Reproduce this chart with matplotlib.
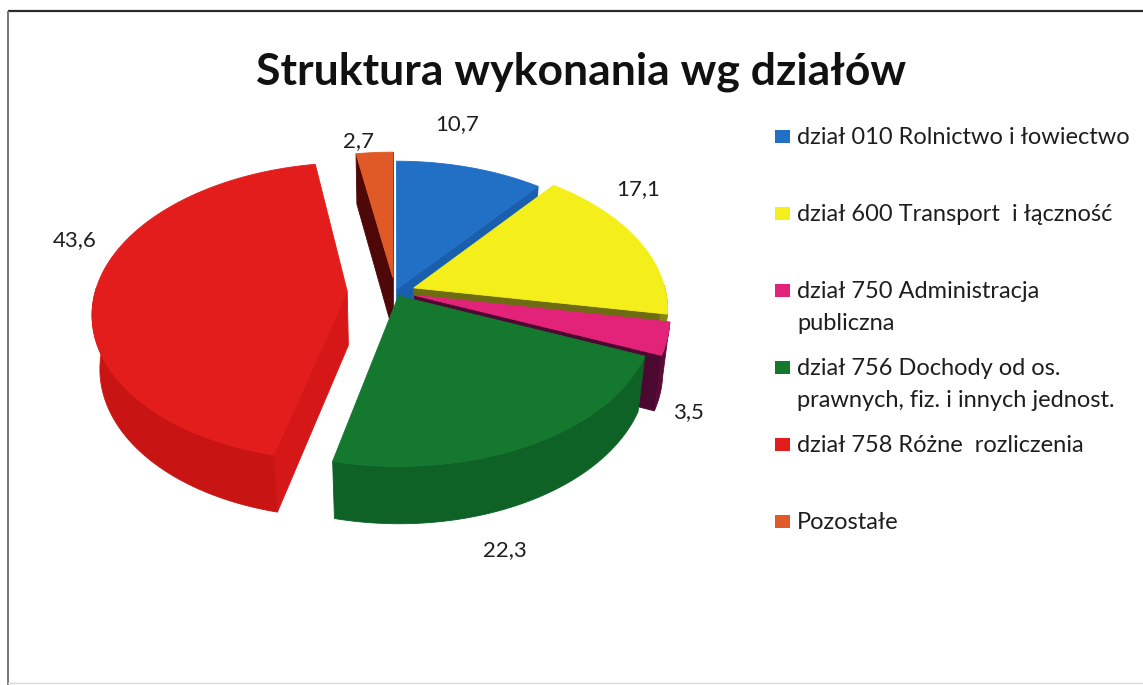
import numpy as np
import matplotlib.pyplot as plt
from matplotlib.patches import Polygon, Rectangle

# data
categories = ['dział 010 Rolnictwo i łowiectwo',
              'dział 600 Transport  i łączność',
              'dział 750 Administracja\npubliczna',
              'dział 756 Dochody od os.\nprawnych, fiz. i innych jednost.',
              'dział 758 Różne  rozliczenia',
              'Pozostałe']
values = [10.7, 17.1, 3.5, 22.3, 43.6, 2.7]
value_labels = ['10,7', '17,1', '3,5', '22,3', '43,6', '2,7']

top_colors = ['#2270C6', '#F4EF1A', '#E3237A', '#15782F', '#E31C1C', '#E05A28']
wall_colors = ['#1A5AA5', '#8A8614', '#5A0A35', '#0F6226', '#C91414', '#5C0B0B']
face_colors = ['#1A5EAE', '#6E6C12', '#4B0830', '#0E5A22', '#D51717', '#4E0808']
explode = [0.02, 0.08, 0.08, 0.03, 0.19, 0.10]

# layout (pixel space) and view
CX, CY = 395, 292
S = 252            # px per pie radius
SA = 0.58          # sin of elevation
CA = np.sqrt(1 - SA ** 2)
D = 6.0            # camera distance (perspective)
DEPTH = 0.27       # pie thickness in radius units
label_xy = [(457, 124), (638, 189), (688, 412), (505, 550), (75, 240), (358, 141)]

fig = plt.figure(figsize=(11.43, 6.85), dpi=100)
ax = fig.add_axes([0, 0, 1, 1])
ax.set_xlim(0, 1143)
ax.set_ylim(685, 0)
ax.axis('off')

# chart frame
ax.plot([8, 1143], [11, 11], color='#2B2B2B', lw=1.6, solid_capstyle='butt')
ax.plot([8, 8], [11, 685], color='#6E7686', lw=1.4, solid_capstyle='butt')
ax.plot([8, 1143], [683, 683], color='#DADADA', lw=1.0)


def proj(x, y, z):
    yc = y * CA - z * SA
    k = D / (D - (z * CA + y * SA))
    return (CX + S * x * k, CY - S * yc * k)


def rim(c, th, y=0.0):
    return proj(c[0] + np.cos(th), y, c[1] - np.sin(th))


def add_poly(pts, color):
    ax.add_patch(Polygon(pts, closed=True, fc=color, ec=color, lw=0.6))


total = sum(values)
fracs = np.array(values) / total
starts = np.pi / 2 - 2 * np.pi * np.concatenate([[0], np.cumsum(fracs)[:-1]])
ends = starts - 2 * np.pi * fracs
mids = (starts + ends) / 2

# back to front
order = np.argsort(-np.sin(mids))
for i in order:
    a, b, m = starts[i], ends[i], mids[i]
    c = (explode[i] * np.cos(m), -explode[i] * np.sin(m))   # world x, z
    top_c = proj(c[0], 0.0, c[1])
    low_c = proj(c[0], -DEPTH, c[1])
    # radial faces
    for phi, visible in ((b, np.cos(b) > 0), (a, np.cos(a) < 0)):
        if visible:
            add_poly([top_c, rim(c, phi), rim(c, phi, -DEPTH), low_c],
                     face_colors[i])
    # outer wall (front half only)
    ths = np.linspace(a, b, 400)
    run = [t for t in ths if np.sin(t) < 0.02]
    if len(run) > 1:
        upper = [rim(c, t) for t in run]
        lower = [rim(c, t, -DEPTH) for t in run[::-1]]
        add_poly(upper + lower, wall_colors[i])
    # top face
    arc = [rim(c, t) for t in np.linspace(a, b, 200)]
    add_poly([top_c] + arc, top_colors[i])

for txt, (x, y) in zip(value_labels, label_xy):
    ax.text(x, y, txt, ha='center', va='center', fontsize=16,
            family='Lato', color='#1E1E1E')

ax.text(581, 84, 'Struktura wykonania wg działów', ha='center', va='baseline',
        fontsize=32, fontweight='bold', family='Lato', color='#111111')

# legend
leg_base = [144, 221, 298, 375, 452, 529]
for lab, col, yb in zip(categories, top_colors, leg_base):
    ax.add_patch(Rectangle((775, yb - 14), 15, 13, fc=col, ec='none'))
    for j, line in enumerate(lab.split('\n')):
        ax.text(797, yb + 32 * j, line, ha='left', va='baseline',
                fontsize=17, family='Lato', color='#1E1E1E')

fig.savefig('out.png', dpi=100)
